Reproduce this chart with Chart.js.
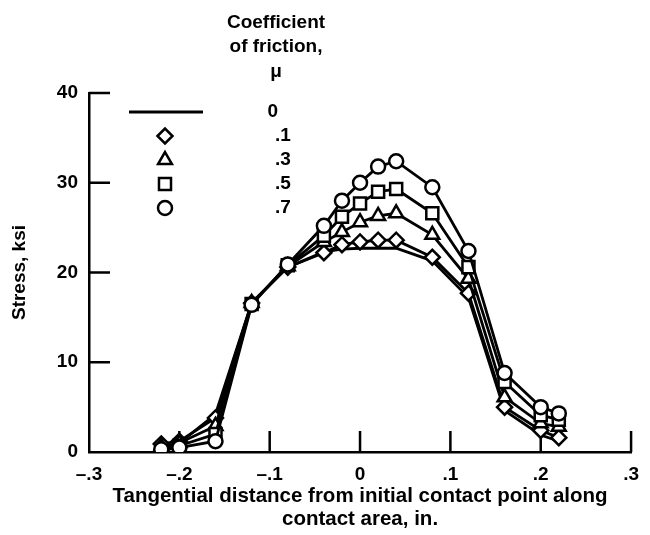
<!DOCTYPE html>
<html>
<head>
<meta charset="utf-8">
<script src="https://cdn.jsdelivr.net/npm/chart.js@4/dist/chart.umd.min.js"></script>
<style>
  html, body { margin: 0; padding: 0; background: #fff; }
  #wrap { width: 650px; height: 535px; position: relative; }
</style>
</head>
<body>
<div id="wrap"><canvas id="c" width="650" height="535"></canvas></div>
<script>
// ---- Data ----
const xPositions = [-0.22, -0.20, -0.16, -0.12, -0.08, -0.04, -0.02, 0.00, 0.02, 0.04, 0.08, 0.12, 0.16, 0.20, 0.22];
const stressMu0  = [0.3, 1.0, 4.2, 16.6, 20.6, 22.3, 22.6, 22.7, 22.7, 22.7, 21.3, 17.2, 4.6, 1.9, 1.2];
const stressMu1  = [0.9, 1.2, 3.8, 16.6, 20.6, 22.2, 23.1, 23.4, 23.6, 23.6, 21.7, 17.7, 5.0, 2.4, 1.6];
const stressMu3  = [0.6, 1.0, 2.9, 16.6, 20.7, 23.4, 24.5, 25.6, 26.3, 26.6, 24.2, 19.3, 6.1, 3.2, 2.8];
const stressMu5  = [0.0, 0.7, 2.0, 16.5, 20.8, 24.1, 26.2, 27.7, 29.0, 29.3, 26.6, 20.6, 7.8, 4.1, 3.6];
const stressMu7  = [0.3, 0.5, 1.2, 16.4, 20.9, 25.2, 28.0, 30.0, 31.8, 32.4, 29.5, 22.4, 8.8, 5.0, 4.3];
const seriesLabels = ['0', '.1', '.3', '.5', '.7'];
const xTickValues = [-0.3, -0.2, -0.1, 0, 0.1, 0.2, 0.3];
const xTickLabels = ['\u2013.3', '\u2013.2', '\u2013.1', '0', '.1', '.2', '.3'];
const yTickValues = [0, 10, 20, 30, 40];
const yTickLabels = ['0', '10', '20', '30', '40'];
const legendTitle = ['Coefficient', 'of friction,', '\u03bc'];
const xTitle = ['Tangential distance from initial contact point along', 'contact area, in.'];
const yTitle = 'Stress, ksi';

// ---- Styles ----
const FONT = 'Liberation Sans, Arial, Helvetica, sans-serif';
const styles = [
  { pointStyle: false, radius: 0 },
  { pointStyle: 'rectRot', radius: 7.5 },
  { pointStyle: 'triangle', radius: 8 },
  { pointStyle: 'rect', radius: 8.5 },
  { pointStyle: 'circle', radius: 7 }
];
const seriesData = [stressMu0, stressMu1, stressMu3, stressMu5, stressMu7];

const datasets = seriesData.map((arr, k) => ({
  label: seriesLabels[k],
  data: xPositions.map((x, i) => ({ x: x, y: arr[i] })),
  showLine: true,
  tension: 0,
  borderColor: '#000',
  borderWidth: 2.8,
  backgroundColor: '#fff',
  pointStyle: styles[k].pointStyle,
  pointRadius: styles[k].radius,
  pointBorderColor: '#000',
  pointBackgroundColor: '#fff',
  pointBorderWidth: 2.5,
  order: k === 0 ? 10 : 5 - k
}));

const innerTicks = {
  id: 'innerTicks',
  beforeDatasetsDraw(chart) {
    const { ctx, chartArea: a, scales: { x, y } } = chart;
    ctx.save();
    ctx.strokeStyle = '#000';
    ctx.lineWidth = 2.5;
    ctx.beginPath();
    xTickValues.forEach(v => {
      const px = x.getPixelForValue(v);
      if (Math.abs(px - a.left) < 1) return;
      ctx.moveTo(px, a.bottom);
      ctx.lineTo(px, a.bottom - 21);
    });
    yTickValues.forEach(v => {
      const py = y.getPixelForValue(v);
      if (Math.abs(py - a.bottom) < 1) return;
      ctx.moveTo(a.left, py);
      ctx.lineTo(a.left + 21, py);
    });
    ctx.stroke();
    ctx.restore();
  }
};

function drawMarker(ctx, style, radius, x, y) {
  if (Chart.helpers && Chart.helpers.drawPoint) {
    Chart.helpers.drawPoint(ctx, { pointStyle: style, radius: radius, borderWidth: 2.5, rotation: 0 }, x, y);
    return;
  }
  ctx.beginPath();
  if (style === 'circle') ctx.arc(x, y, radius, 0, Math.PI * 2);
  else if (style === 'rect') { const s = radius * Math.SQRT1_2; ctx.rect(x - s, y - s, 2 * s, 2 * s); }
  else if (style === 'rectRot') { ctx.moveTo(x, y - radius); ctx.lineTo(x + radius, y); ctx.lineTo(x, y + radius); ctx.lineTo(x - radius, y); ctx.closePath(); }
  else if (style === 'triangle') { ctx.moveTo(x, y - radius); ctx.lineTo(x + radius * 0.866, y + radius * 0.5); ctx.lineTo(x - radius * 0.866, y + radius * 0.5); ctx.closePath(); }
  ctx.fill(); ctx.stroke();
}

const legendPlugin = {
  id: 'customLegend',
  afterDraw(chart) {
    const ctx = chart.ctx;
    ctx.save();
    ctx.fillStyle = '#000';
    ctx.font = 'bold 19px ' + FONT;
    ctx.textAlign = 'center';
    ctx.textBaseline = 'middle';
    const titleY = [23, 47, 72];
    legendTitle.forEach((t, i) => ctx.fillText(t, 276, titleY[i]));
    const rowY = [112, 136, 160, 184, 208];
    const markX = 165;
    seriesLabels.forEach((lab, k) => {
      const yy = rowY[k];
      if (k === 0) {
        ctx.strokeStyle = '#000';
        ctx.lineWidth = 2.8;
        ctx.beginPath();
        ctx.moveTo(129, yy);
        ctx.lineTo(203, yy);
        ctx.stroke();
        ctx.fillStyle = '#000';
        ctx.textAlign = 'right';
        ctx.fillText(lab, 278, yy);
      } else {
        ctx.strokeStyle = '#000';
        ctx.fillStyle = '#fff';
        ctx.lineWidth = 2.5;
        drawMarker(ctx, styles[k].pointStyle, styles[k].radius, markX, yy);
        ctx.fillStyle = '#000';
        ctx.textAlign = 'left';
        ctx.fillText(lab, 275, yy);
      }
    });
    ctx.restore();
  }
};

new Chart(document.getElementById('c'), {
  type: 'scatter',
  data: { datasets: datasets },
  options: {
    responsive: false,
    animation: false,
    events: [],
    layout: { padding: { top: 93, right: 13, left: 0, bottom: 0 } },
    plugins: { legend: { display: false }, tooltip: { enabled: false } },
    scales: {
      x: {
        type: 'linear',
        min: -0.3, max: 0.3,
        afterBuildTicks: s => { s.ticks = xTickValues.map(v => ({ value: v })); },
        afterFit: s => { s.height = 83; },
        grid: { display: false, drawTicks: false },
        border: { display: true, color: '#000', width: 2.5 },
        ticks: {
          callback: (v, i) => xTickLabels[i],
          color: '#000', font: { family: FONT, size: 19, weight: 'bold' },
          padding: 11, maxRotation: 0, autoSkip: false
        },
        title: {
          display: true, text: xTitle, color: '#000',
          font: { family: FONT, size: 20.5, weight: 'bold', lineHeight: 1.1 },
          padding: { top: 0, bottom: 4.7 }
        }
      },
      y: {
        type: 'linear',
        min: 0, max: 40,
        afterBuildTicks: s => { s.ticks = yTickValues.map(v => ({ value: v })); },
        afterFit: s => { s.width = 89; },
        grid: { display: false, drawTicks: false },
        border: { display: true, color: '#000', width: 2.5 },
        ticks: {
          callback: (v, i) => yTickLabels[i],
          color: '#000', font: { family: FONT, size: 19, weight: 'bold' },
          padding: 11, autoSkip: false
        },
        title: {
          display: true, text: yTitle, color: '#000',
          font: { family: FONT, size: 19, weight: 'bold', lineHeight: 1.2 },
          padding: { top: 8, bottom: 0 }
        }
      }
    }
  },
  plugins: [innerTicks, legendPlugin]
});
</script>
</body>
</html>
